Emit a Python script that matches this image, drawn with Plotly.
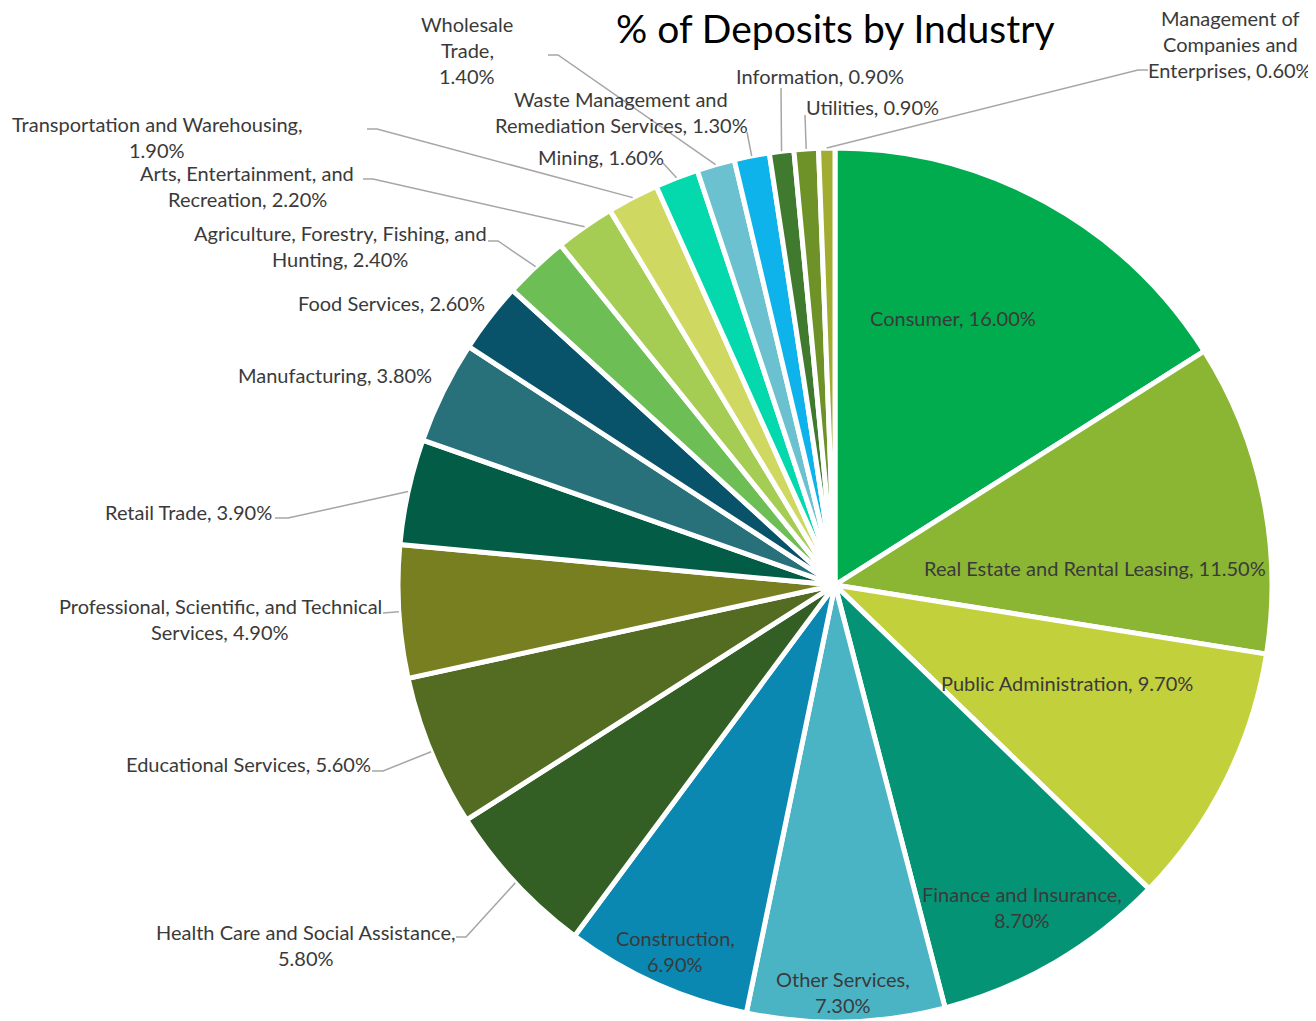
import math

import plotly.graph_objects as go

# page body has an 8px margin; figure is sized and positioned for that
PAD = 8
W, H = 1316 - PAD, 1022 - PAD

industries = [
    "Consumer",
    "Real Estate and Rental Leasing",
    "Public Administration",
    "Finance and Insurance",
    "Other Services",
    "Construction",
    "Health Care and Social Assistance",
    "Educational Services",
    "Professional, Scientific, and Technical Services",
    "Retail Trade",
    "Manufacturing",
    "Food Services",
    "Agriculture, Forestry, Fishing, and Hunting",
    "Arts, Entertainment, and Recreation",
    "Transportation and Warehousing",
    "Mining",
    "Wholesale Trade",
    "Waste Management and Remediation Services",
    "Information",
    "Utilities",
    "Management of Companies and Enterprises",
]
shares = [16.0, 11.5, 9.7, 8.7, 7.3, 6.9, 5.8, 5.6, 4.9, 3.9, 3.8,
          2.6, 2.4, 2.2, 1.9, 1.6, 1.4, 1.3, 0.9, 0.9, 0.6]
slice_colors = [
    "#00ac4e", "#8bb634", "#c2d03b", "#049475", "#4bb4c4", "#0b88b2",
    "#335e24", "#546c21", "#787f21", "#035c45", "#28707a", "#08536a",
    "#6dbe55", "#a5cc53", "#cfd961", "#04d9ad", "#6cc1d0", "#0db3ea",
    "#3f7a2e", "#6f9228", "#a1ac30",
]

# label placement (screen pixel centre of the text block, words per line, leader start/elbow)
label_layout = {
    "Consumer": dict(pos=(953, 318), words=None),
    "Real Estate and Rental Leasing": dict(pos=(1095, 568), words=None),
    "Public Administration": dict(pos=(1067, 683), words=None),
    "Finance and Insurance": dict(pos=(1022, 907), words=[3, 1]),
    "Other Services": dict(pos=(843, 992), words=[2, 1]),
    "Construction": dict(pos=(675, 951), words=[1, 1]),
    "Health Care and Social Assistance": dict(pos=(306, 945), words=[5, 1], leader=[(456, 937), (466, 937)]),
    "Educational Services": dict(pos=(248, 764), words=None, leader=[(372, 771), (383, 771)]),
    "Professional, Scientific, and Technical Services": dict(pos=(220, 619), words=[4, 2], leader=[(383, 613)]),
    "Retail Trade": dict(pos=(188, 512), words=None, leader=[(275, 518), (288, 518)]),
    "Manufacturing": dict(pos=(335, 375), words=None),
    "Food Services": dict(pos=(391, 303), words=None),
    "Agriculture, Forestry, Fishing, and Hunting": dict(pos=(340, 246), words=[4, 2], leader=[(488, 241), (498, 241)]),
    "Arts, Entertainment, and Recreation": dict(pos=(247, 186), words=[3, 2], leader=[(363, 179), (373, 179)]),
    "Transportation and Warehousing": dict(pos=(157, 137), words=[3, 1], leader=[(367, 129), (377, 129)]),
    "Mining": dict(pos=(601, 157), words=None, leader=[(663, 163)]),
    "Wholesale Trade": dict(pos=(467, 50), words=[1, 1, 1], leader=[(548, 55), (558, 55)]),
    "Waste Management and Remediation Services": dict(pos=(621, 112), words=[3, 3], leader=[(747, 132)]),
    "Information": dict(pos=(820, 76), words=None, leader=[(781, 88)]),
    "Utilities": dict(pos=(872, 107), words=None, leader=[(805, 115)]),
    "Management of Companies and Enterprises": dict(pos=(1230, 44), words=[2, 2, 2], leader=[(1148, 70), (1138, 70)]),
}

# pie geometry in screen pixels
pie_left, pie_right, pie_top = 398, 1272, 148
R = (pie_right - pie_left) / 2
cx = (pie_left + pie_right) / 2
cy = pie_top + R

font_family = "Lato, 'Open Sans', Arial, sans-serif"
text_color = "#3a3a3a"
label_size = 20
line_h = 26


def to_paper(x, y):
    return (x - PAD) / W, 1 - (y - PAD) / H


fig = go.Figure(
    go.Pie(
        labels=industries,
        values=shares,
        sort=False,
        direction="clockwise",
        rotation=0,
        marker=dict(colors=slice_colors, line=dict(color="white", width=5)),
        textinfo="none",
        hoverinfo="label+value",
        domain=dict(
            x=[(pie_left - PAD) / W, (pie_right - PAD) / W],
            y=[0, 2 * R / H],
        ),
        showlegend=False,
    )
)

total = sum(shares)
cum = 0
annotations = []
shapes = []
for name, val in zip(industries, shares):
    theta = math.radians((cum + val / 2) / total * 360)
    cum += val
    spec = label_layout[name]
    text = f"{name}, {val:.2f}%"
    words = text.split(" ")
    if spec["words"]:
        lines, i = [], 0
        for n in spec["words"]:
            lines.append(" ".join(words[i:i + n]))
            i += n
    else:
        lines = [text]
    lx, ly = spec["pos"]
    for k, ln in enumerate(lines):
        yy = ly + (k - (len(lines) - 1) / 2) * line_h
        px, py = to_paper(lx, yy)
        annotations.append(dict(
            x=px, y=py, xref="paper", yref="paper", text=ln, showarrow=False,
            xanchor="center", yanchor="middle",
            font=dict(family=font_family, size=label_size, color=text_color),
        ))
    if "leader" in spec:
        pts = list(spec["leader"])
        pts.append((cx + R * math.sin(theta), cy - R * math.cos(theta)))
        path = "M " + " L ".join(
            f"{to_paper(x, y)[0]:.5f},{to_paper(x, y)[1]:.5f}" for x, y in pts
        )
        shapes.append(dict(type="path", path=path, xref="paper", yref="paper",
                           line=dict(color="#a6a6a6", width=1.5)))

tx, ty = to_paper(835, 28)
annotations.append(dict(
    x=tx, y=ty, xref="paper", yref="paper",
    text="% of Deposits by Industry", showarrow=False,
    xanchor="center", yanchor="middle",
    font=dict(family=font_family, size=39, color="black"),
))

fig.update_layout(
    width=W,
    height=H,
    margin=dict(l=0, r=0, t=0, b=0),
    paper_bgcolor="white",
    plot_bgcolor="white",
    annotations=annotations,
    shapes=shapes,
)

fig.write_html("out.html")
